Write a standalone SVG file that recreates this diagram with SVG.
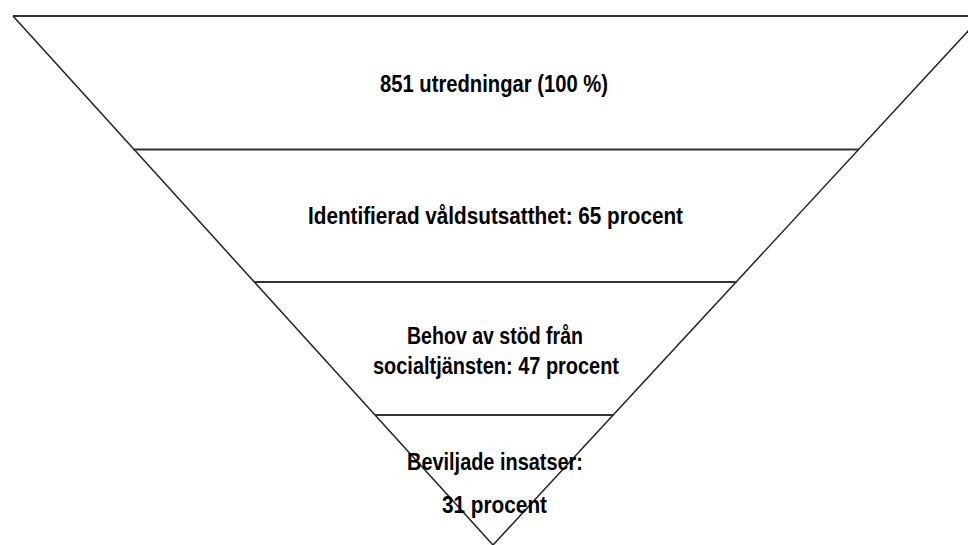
<svg xmlns="http://www.w3.org/2000/svg" width="968" height="545" viewBox="0 0 968 545">
<style>
.edge{stroke:#222;stroke-width:1.5;fill:none}
.div{stroke:#333;stroke-width:2;fill:none}
.lbl{font-family:"Liberation Sans",Arial,sans-serif;font-weight:bold;font-size:23px;fill:#000;text-anchor:middle}
</style>
<rect width="968" height="545" fill="#fff"/>
<g id="connectors">
<line class="div" x1="13" y1="16" x2="968" y2="16"/>
<line class="edge" x1="13" y1="16" x2="493" y2="545"/>
<line class="edge" x1="982" y1="16" x2="493" y2="545"/>
<line class="div" x1="133" y1="149.5" x2="859" y2="149.5"/>
<line class="div" x1="254" y1="282" x2="737" y2="282"/>
<line class="div" x1="375" y1="415" x2="614" y2="415"/>
</g>
<g id="level1">
<text class="lbl" x="494" y="92" textLength="228" lengthAdjust="spacingAndGlyphs">851 utredningar (100 %)</text>
</g>
<g id="level2">
<text class="lbl" x="495.5" y="224" textLength="375" lengthAdjust="spacingAndGlyphs">Identifierad våldsutsatthet: 65 procent</text>
</g>
<g id="level3">
<text class="lbl" x="495" y="344" textLength="176" lengthAdjust="spacingAndGlyphs">Behov av stöd från</text>
<text class="lbl" x="496" y="374" textLength="246" lengthAdjust="spacingAndGlyphs">socialtjänsten: 47 procent</text>
</g>
<g id="level4">
<text class="lbl" x="495" y="470" textLength="176" lengthAdjust="spacingAndGlyphs">Beviljade insatser:</text>
<text class="lbl" x="494.5" y="513" textLength="105" lengthAdjust="spacingAndGlyphs">31 procent</text>
</g>
</svg>
